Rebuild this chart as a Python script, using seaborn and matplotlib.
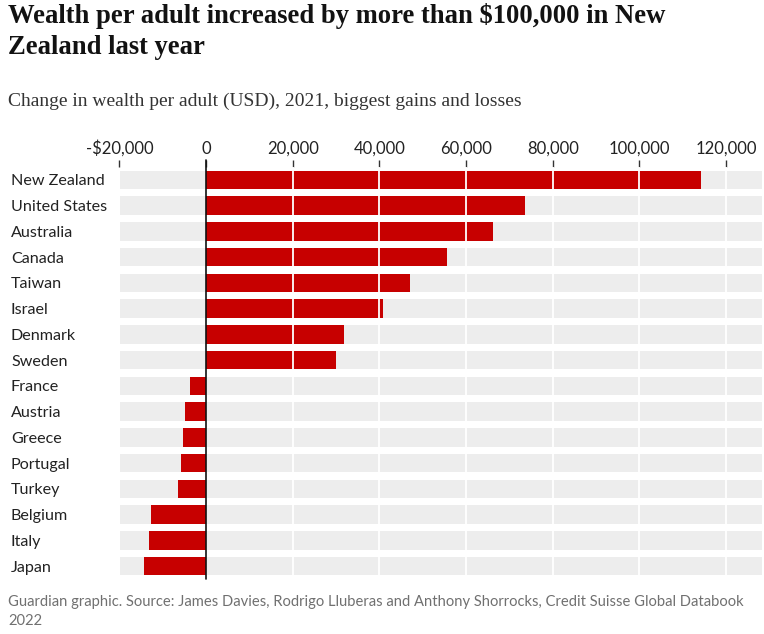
import matplotlib
matplotlib.use("Agg")
import matplotlib.pyplot as plt
import seaborn as sns
import pandas as pd
from matplotlib.ticker import FuncFormatter

countries = ["New Zealand", "United States", "Australia", "Canada", "Taiwan", "Israel",
             "Denmark", "Sweden", "France", "Austria", "Greece", "Portugal", "Turkey",
             "Belgium", "Italy", "Japan"]
change = [114200, 73500, 66300, 55500, 47100, 40900, 31800, 30000,
          -3700, -4900, -5400, -5800, -6500, -12800, -13300, -14400]
tick_values = [-20000, 0, 20000, 40000, 60000, 80000, 100000, 120000]
x_min, x_max = -20000, 128300

title = "Wealth per adult increased by more than $100,000 in New\nZealand last year"
subtitle = "Change in wealth per adult (USD), 2021, biggest gains and losses"
footer = ("Guardian graphic. Source: James Davies, Rodrigo Lluberas and Anthony Shorrocks, "
          "Credit Suisse Global Databook\n2022")

df = pd.DataFrame({"country": countries, "change": change})
df["bg_pos"] = x_max
df["bg_neg"] = x_min

sns.set_theme(style="white")
plt.rcParams["font.family"] = ["Lato", "DejaVu Sans"]

W, H = 764, 634
fig = plt.figure(figsize=(W / 100, H / 100), dpi=100)
ax = fig.add_axes([119.5 / W, 1 - 579 / H, (762 - 119.5) / W, (579 - 167) / H])

red = "#c70000"
bg = "#ededed"
sns.barplot(data=df, y="country", x="bg_pos", color=bg, orient="h", width=0.72,
            saturation=1, ax=ax, zorder=1)
sns.barplot(data=df, y="country", x="bg_neg", color=bg, orient="h", width=0.72,
            saturation=1, ax=ax, zorder=1)
sns.barplot(data=df, y="country", x="change", color=red, orient="h", width=0.72,
            saturation=1, ax=ax, zorder=2)
for p in ax.patches:
    p.set_edgecolor("none")

ax.set_xlim(x_min, x_max)
ax.set_ylim(len(countries) - 0.5, -0.5)

for v in tick_values:
    if v > 0:
        ax.axvline(v, color="white", lw=1.3, zorder=3)
ax.axvline(0, color="#121212", lw=1.2, zorder=4, ymin=0, ymax=1.016, clip_on=False)

for s in ax.spines.values():
    s.set_visible(False)

ax.xaxis.tick_top()
ax.set_xticks(tick_values)
ax.xaxis.set_major_formatter(FuncFormatter(
    lambda v, pos: ("-$" + f"{int(-v):,}") if v < 0 else f"{int(v):,}"))
ax.tick_params(axis="x", top=True, bottom=False, length=5, width=1, color="#333333",
               direction="out", pad=2.5, labelsize=12, labelcolor="#222222")
ax.set_xlabel("")
ax.set_ylabel("")
ax.tick_params(axis="y", left=False, length=0, pad=108.5 * 0.72, labelsize=11.6,
               labelcolor="#222222")
for lab in ax.get_yticklabels():
    lab.set_ha("left")

fig.text(8 / W, 1 - 3 / H, title, ha="left", va="top", fontsize=19.2, fontweight="bold",
         family=["Liberation Serif", "DejaVu Serif"], color="#121212", linespacing=1.3)
fig.text(8 / W, 1 - 101 / H, subtitle, ha="left", va="center", fontsize=14,
         family=["Liberation Serif", "DejaVu Serif"], color="#333333")
fig.text(8 / W, 1 - 595 / H, footer, ha="left", va="top", fontsize=10.65,
         color="#707070", linespacing=1.45)

fig.savefig("out.png", dpi=100)
